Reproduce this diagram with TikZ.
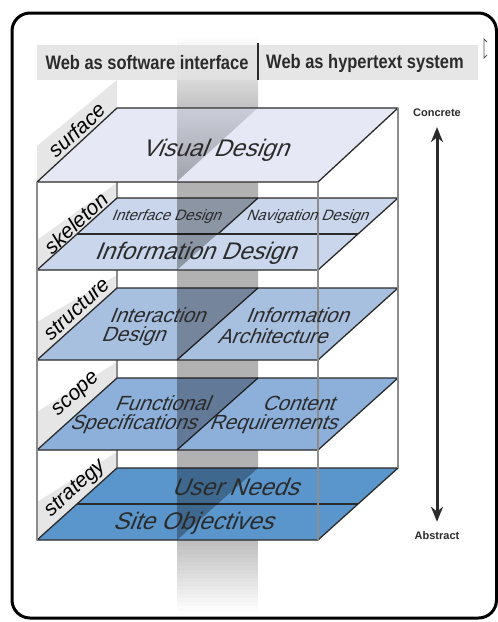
\documentclass[tikz,border=0pt]{standalone}
\usepackage{fontspec}
\usepackage{tikz}
\setmainfont{Liberation Sans}
\newfontfamily\headfont[FakeStretch=0.845]{Liberation Sans}
\newfontfamily\planefont[FakeSlant=0.4]{Liberation Sans}
\newfontfamily\tagfont{Liberation Sans}
\definecolor{pag}{HTML}{2B2B2B}
\definecolor{frm}{HTML}{8C8C8C}
\definecolor{hdr}{HTML}{E2E2E2}
\definecolor{wal}{HTML}{E6E6E6}
\definecolor{lsur}{HTML}{E6E9F5}
\definecolor{lske}{HTML}{C9D6EC}
\definecolor{lstr}{HTML}{A8C0E0}
\definecolor{lsco}{HTML}{8DB0DA}
\definecolor{lsta}{HTML}{5A96CC}
\usetikzlibrary{arrows.meta}

\tikzset{
  layer/.style={draw=pag, line width=1.3pt, line join=round},
  boxedge/.style={frm, line width=1.5pt},
  colband/.style={fill=black, fill opacity=0.3},
  sidewall/.style={fill=wal},
  layername/.style={font=\tagfont\itshape\fontsize{21}{21}\selectfont, text=black, rotate=43, inner sep=0pt},
  txtbig/.style={font=\planefont\fontsize{24}{24}\selectfont, text=pag, inner sep=0pt},
  txtmid/.style={font=\planefont\fontsize{20.5}{20.5}\selectfont, text=pag, inner sep=0pt},
  txtsmall/.style={font=\planefont\fontsize{15}{15}\selectfont, text=pag, inner sep=0pt},
  headtxt/.style={font=\headfont\bfseries\fontsize{19.5}{19.5}\selectfont, text=pag, inner sep=0pt},
  poletxt/.style={font=\bfseries\fontsize{11}{11}\selectfont, text=pag, inner sep=0pt},
  updown/.style={{Stealth[length=15pt,width=12pt]}-{Stealth[length=15pt,width=12pt]}, line width=3pt, pag, shorten <=10pt, shorten >=10pt}
}

\begin{document}
\begin{tikzpicture}[x=1pt, y=-1pt]

		\useasboundingbox (0,0) rectangle (498,622);
		\fill[white] (0,0) rectangle (498,622);

		% Outer frame
		\draw[line width=3pt, rounded corners=18pt] (12,13) rectangle (496.5,618);

		% Column below the bottom layer
		\foreach \k in {0,...,17} {
			\pgfmathsetmacro\g{26*(1-\k/18)}
			\fill[black!\g] (177,538+4*\k) rectangle (258,542.5+4*\k);
		}

		% Column above the top layer
		\shade[top color=white, bottom color=black!24] (177,35) rectangle (258,108);

		% Side wall panels
		\fill[sidewall] (37,182) -- (117,108) -- (117,80) -- (37,146) -- cycle;
		\fill[sidewall] (37,270) -- (117,198) -- (117,183) -- (37,240) -- cycle;
		\fill[sidewall] (37,360) -- (117,288) -- (117,275) -- (37,322) -- cycle;
		\fill[sidewall] (37,450) -- (117,378) -- (117,362) -- (37,412) -- cycle;
		\fill[sidewall] (37,540) -- (117,468) -- (117,452) -- (37,502) -- cycle;

		% Back left edge
		\draw[boxedge] (117,108) -- (117,468);

		% Strategy
		\filldraw[layer, fill=lsta] (37,540) -- (318,540) -- (398,468) -- (117,468) -- cycle;
		\draw[layer] (77,504) -- (358,504);
		\fill[colband] (177,540) -- (258,468) -- (258,378) -- (177,450) -- cycle;

		% Scope
		\filldraw[layer, fill=lsco] (37,450) -- (318,450) -- (398,378) -- (117,378) -- cycle;
		\draw[layer] (177,450) -- (258,378);
		\fill[colband] (177,450) -- (258,378) -- (258,288) -- (177,360) -- cycle;

		% Structure
		\filldraw[layer, fill=lstr] (37,360) -- (318,360) -- (398,288) -- (117,288) -- cycle;
		\draw[layer] (177,360) -- (258,288);
		\fill[colband] (177,360) -- (258,288) -- (258,198) -- (177,270) -- cycle;

		% Skeleton
		\filldraw[layer, fill=lske] (37,270) -- (318,270) -- (398,198) -- (117,198) -- cycle;
		\draw[layer] (77,234) -- (358,234);
		\draw[layer] (258,198) -- (218,234);
		\fill[colband] (177,270) -- (258,198) -- (258,108) -- (177,182) -- cycle;

		% Surface
		\filldraw[layer, fill=lsur] (37,182) -- (318,182) -- (398,108) -- (117,108) -- cycle;
		\shade[top color=lsur!88!black, bottom color=lsur!70!black] (177,109) -- (256.5,109) -- (177,181.5) -- cycle;

		% Header
		\fill[hdr, fill opacity=0.85] (37,45) rectangle (478,80);
		\draw[pag, line width=1.2pt] (258,43) -- (258,80);
		\node[headtxt] (hsw) at (147,63) {Web as software interface};
		\node[headtxt] (hht) at (365,63) {Web as hypertext system};

		% Front edges
		\draw[boxedge] (37,182) -- (37,540);
		\draw[boxedge] (318,182) -- (318,540);
		\draw[boxedge] (398,108) -- (398,468);

		% Layer names
		\node[layername] (nsur) at (77,130) {surface};
		\node[layername] (nske) at (76,223) {skeleton};
		\node[layername] (nstr) at (77,309) {structure};
		\node[layername] (nsco) at (77,395) {scope};
		\node[layername] (nsta) at (76,489) {strategy};

		% Layer contents
		\node[txtbig] (vis) at (215,150) {Visual Design};
		\node[txtsmall] (ifd) at (166,217) {Interface Design};
		\node[txtsmall] (nvd) at (307,217) {Navigation Design};
		\node[txtbig] (ind) at (195,253) {Information Design};
		\node[txtmid] (ixa) at (157,315) {Interaction};
		\node[txtmid] (ixb) at (133,336) {Design};
		\node[txtmid] (iaa) at (297,315) {Information};
		\node[txtmid] (iab) at (272,336) {Architecture};
		\node[txtmid] (fsa) at (162,403) {Functional};
		\node[txtmid] (fsb) at (133,424) {Specifications};
		\node[txtmid] (cra) at (298,403) {Content};
		\node[txtmid] (crb) at (273,424) {Requirements};
		\node[txtbig] (usn) at (235,487) {User Needs};
		\node[txtbig] (sob) at (193,523) {Site Objectives};

		% Concrete / Abstract
		\node[poletxt] (concrete) at (437,113) {Concrete};
		\node[poletxt] (abstract) at (437,536) {Abstract};
		\draw[updown] (concrete) -- (abstract);

		% Cursor mark
		\draw[pag!80, line width=0.8pt] (487,42) -- (484,39) -- (484,58) -- (487,55);

	\end{tikzpicture}
\end{document}
